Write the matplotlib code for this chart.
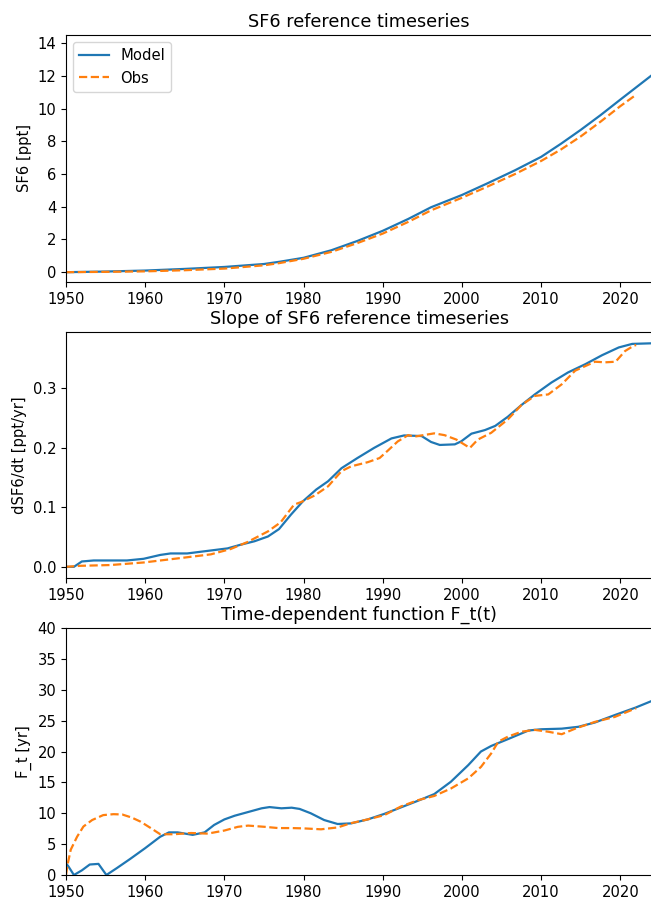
import numpy as np
import matplotlib
matplotlib.use("Agg")
import matplotlib.pyplot as plt

# SF6 concentration [ppt]
yr_mod = [1950, 1955, 1960, 1965, 1970, 1975, 1977, 1980, 1983.5, 1986.8, 1990, 1993.2,
          1996.1, 2000, 2003.3, 2006.7, 2010, 2012.5, 2015, 2017.5, 2020, 2024]
sf6_mod = [0.0, 0.04, 0.1, 0.2, 0.32, 0.5, 0.64, 0.88, 1.34, 1.91, 2.53, 3.25,
           3.97, 4.72, 5.45, 6.23, 7.05, 7.85, 8.7, 9.6, 10.55, 12.05]
yr_obs = [1950, 1955, 1960, 1965, 1970, 1975, 1977, 1980, 1983.5, 1986.8, 1990, 1993.2,
          1996.1, 2000, 2003.3, 2006.7, 2010, 2012.5, 2015, 2017.5, 2020, 2022]
sf6_obs = [0.0, 0.02, 0.05, 0.12, 0.22, 0.42, 0.56, 0.82, 1.24, 1.78, 2.36, 3.07,
           3.78, 4.55, 5.25, 6.0, 6.8, 7.5, 8.3, 9.2, 10.15, 10.85]

# slope dSF6/dt [ppt/yr]
yr_dmod = [1950, 1951, 1952, 1953.5, 1957.7, 1959.8, 1961.9, 1963.2, 1965.3, 1967.4,
           1970.4, 1972, 1973.8, 1975.5, 1976.9, 1978.4, 1979.9, 1981.6, 1983.1, 1984.8,
           1986.8, 1988.9, 1991.1, 1992.7, 1994.9, 1996.1, 1997.2, 1999.1, 1999.9, 2001.2,
           2002.9, 2004.2, 2005.8, 2007.5, 2009.2, 2011.3, 2013.4, 2015.6, 2017.7, 2019.8,
           2021.5, 2024]
dsf6_mod = [0.0, 0.0, 0.009, 0.0107, 0.0107, 0.0135, 0.020, 0.0225, 0.0225, 0.026,
            0.031, 0.037, 0.043, 0.051, 0.0635, 0.0877, 0.110, 0.130, 0.144, 0.166,
            0.183, 0.200, 0.216, 0.221, 0.220, 0.210, 0.205, 0.206, 0.211, 0.224,
            0.230, 0.237, 0.2525, 0.272, 0.290, 0.310, 0.327, 0.341, 0.356, 0.369,
            0.375, 0.376]
yr_dobs = [1950, 1951.8, 1955.6, 1959.8, 1964, 1968.3, 1970.8, 1972.9, 1975.5, 1977.1,
           1978.8, 1979.7, 1981.4, 1983.1, 1984.8, 1986, 1988.1, 1989.6, 1990.6, 1991.9,
           1993.2, 1994, 1996.5, 1997.8, 1999.3, 2001, 2002, 2003.7, 2005.8, 2007.5,
           2009.2, 2010.9, 2012.6, 2014.3, 2016.8, 2018.1, 2019.4, 2020.6, 2021.7, 2022]
dsf6_obs = [0.0, 0.0017, 0.003, 0.0073, 0.014, 0.021, 0.030, 0.0416, 0.0596, 0.0748,
            0.1046, 0.109, 0.120, 0.1355, 0.161, 0.169, 0.176, 0.183, 0.195, 0.211,
            0.2215, 0.219, 0.2245, 0.2215, 0.214, 0.200, 0.214, 0.2255, 0.248, 0.272,
            0.2875, 0.290, 0.307, 0.330, 0.345, 0.344, 0.345, 0.363, 0.372, 0.373]

# time-dependent function F_t [yr]
yr_fmod = [1950, 1950.3, 1951, 1952, 1953, 1954.1, 1955.1, 1956.4, 1958.1, 1960, 1961.9,
           1963, 1964.1, 1966, 1967.5, 1968.7, 1970, 1971.3, 1973, 1974.7, 1975.7, 1977.2,
           1978.5, 1979.5, 1980.9, 1982.6, 1984.3, 1986, 1988.1, 1990.2, 1992.3, 1994.4,
           1996.5, 1998.6, 2000.8, 2002.4, 2003.7, 2005.8, 2008.4, 2010, 2012.6, 2014.7,
           2016.8, 2019.3, 2021.9, 2024]
ft_mod = [1.9, 1.4, 0.0, 0.75, 1.7, 1.8, 0.0, 1.1, 2.6, 4.35, 6.2,
          6.9, 6.9, 6.5, 6.9, 8.1, 9.0, 9.6, 10.2, 10.8, 11.0, 10.8,
          10.9, 10.7, 10.0, 8.9, 8.26, 8.36, 9.0, 9.9, 10.95, 12.0,
          13.1, 15.1, 17.8, 20.0, 20.9, 22.0, 23.4, 23.6, 23.7, 24.0,
          24.7, 25.9, 27.1, 28.2]
yr_fobs = [1950, 1950.2, 1950.6, 1951.4, 1952.2, 1953.3, 1954.7, 1956, 1957.1, 1958.3,
           1959.4, 1960.7, 1961.9, 1963.6, 1965.8, 1967.9, 1970, 1971.7, 1973, 1975.1,
           1976.8, 1978.5, 1980, 1982.2, 1984.3, 1986, 1988.1, 1990.2, 1992.3, 1994.4,
           1996.5, 1998.6, 2000.8, 2002.4, 2003.7, 2004.6, 2005.8, 2007.5, 2009.2, 2010.9,
           2012.6, 2014.3, 2016.8, 2019.3, 2021.4, 2022]
ft_obs = [0.0, 1.7, 4.1, 6.2, 7.85, 8.9, 9.7, 9.85, 9.8, 9.3,
          8.65, 7.6, 6.6, 6.6, 6.8, 6.7, 7.2, 7.8, 8.0, 7.8,
          7.6, 7.6, 7.55, 7.4, 7.7, 8.4, 9.0, 9.7, 11.1, 12.1,
          12.8, 14.0, 15.65, 17.5, 19.7, 21.6, 22.4, 23.2, 23.5, 23.2,
          22.8, 23.7, 24.8, 25.6, 26.7, 27.0]

plt.rcParams['font.size'] = 10.6

fig = plt.figure(figsize=(6.51, 8.98), dpi=100)
left = 66 / 651.
width = (652 - 66) / 651.
ax1 = fig.add_axes([left, 616 / 898., width, 247 / 898.])
ax2 = fig.add_axes([left, 320 / 898., width, 246 / 898.])
ax3 = fig.add_axes([left, 23 / 898., width, 247 / 898.])

lw = 1.6

# top panel
ax1.plot(yr_mod, sf6_mod, color='C0', lw=lw, label='Model')
ax1.plot(yr_obs, sf6_obs, color='C1', lw=lw, ls='--', label='Obs')
ax1.set_xlim(1950, 2024)
ax1.set_ylim(-0.6, 14.5)
ax1.set_ylabel('SF6 [ppt]')
ax1.set_title('SF6 reference timeseries')
ax1.legend(loc=2)

# middle panel
ax2.plot(yr_dmod, dsf6_mod, color='C0', lw=lw)
ax2.plot(yr_dobs, dsf6_obs, color='C1', lw=lw, ls='--')
ax2.set_xlim(1950, 2024)
ax2.set_ylim(-0.0188, 0.395)
ax2.set_yticks([0.0, 0.1, 0.2, 0.3])
ax2.set_ylabel('dSF6/dt [ppt/yr]')
ax2.set_title('Slope of SF6 reference timeseries')

# bottom panel
ax3.plot(yr_fmod, ft_mod, color='C0', lw=lw)
ax3.plot(yr_fobs, ft_obs, color='C1', lw=lw, ls='--')
ax3.set_xlim(1950, 2024)
ax3.set_ylim(0, 40)
ax3.set_ylabel('F_t [yr]')
ax3.set_title('Time-dependent function F_t(t)')

for ax in (ax1, ax2, ax3):
    ax.set_xticks(np.arange(1950, 2021, 10))

fig.savefig('out.png', dpi=100)
plt.close()
